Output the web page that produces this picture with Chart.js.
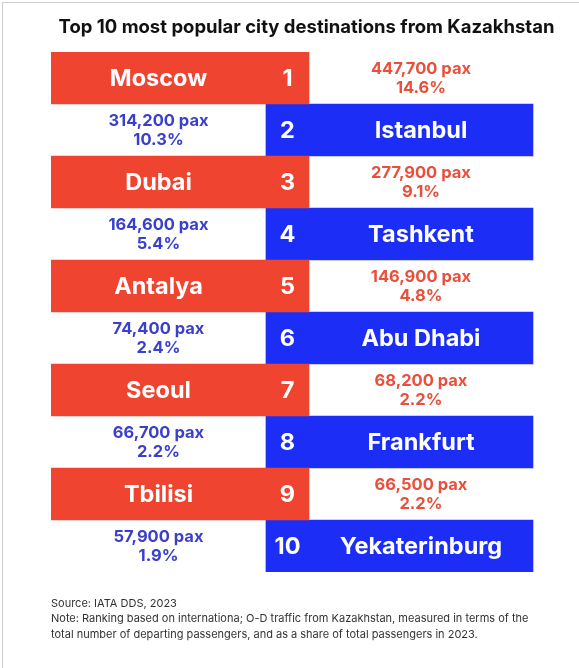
<!DOCTYPE html>
<html>
<head>
<meta charset="utf-8">
<script src="https://cdn.jsdelivr.net/npm/chart.js@4.4.1/dist/chart.umd.min.js"></script>
<style>
  html, body { margin: 0; padding: 0; background: #fff; }
  #wrap { position: relative; width: 579px; height: 668px; }
  #frame { position: absolute; left: 2px; top: 2px; right: 0; bottom: 0;
           border-left: 1px solid #cfcfcf; border-top: 1px solid #cfcfcf; pointer-events: none; }
</style>
</head>
<body>
<div id="wrap">
  <canvas id="c"></canvas>
  <div id="frame"></div>
</div>
<script>
// ---- data ----
const cities = ['Moscow', 'Istanbul', 'Dubai', 'Tashkent', 'Antalya', 'Abu Dhabi', 'Seoul', 'Frankfurt', 'Tbilisi', 'Yekaterinburg'];
const ranks = [1, 2, 3, 4, 5, 6, 7, 8, 9, 10];
const passengers = [447700, 314200, 277900, 164600, 146900, 74400, 68200, 66700, 66500, 57900];
const shares = [14.6, 10.3, 9.1, 5.4, 4.8, 2.4, 2.2, 2.2, 2.2, 1.9];
const titleText = 'Top 10 most popular city destinations from Kazakhstan';
const noteLines = [
  'Source: IATA DDS, 2023',
  'Note: Ranking based on internationa; O-D traffic from Kazakhstan, measured in terms of the',
  'total number of departing passengers, and as a share of total passengers in 2023.'
];

// ---- layout constants (fractions of the hidden x scale) ----
const RED_END = 0.5049;
const BLUE_START = 0.4207;
const BLUE_END = 0.9432;

const RED = '#EF4430';
const BLUE = '#1C2EF5';
const RED_TXT = '#E8503C';
const BLUE_TXT = '#3B40CC';
const FONT = 'Inter, "Noto Sans", "DejaVu Sans", sans-serif';

const redData = ranks.map(r => r % 2 === 1 ? [0, RED_END] : null);
const blueData = ranks.map(r => r % 2 === 0 ? [BLUE_START, BLUE_END] : null);

const labelPlugin = {
  id: 'rowLabels',
  afterDatasetsDraw(chart) {
    const ctx = chart.ctx;
    const xs = chart.scales.x, ys = chart.scales.y;
    const leftMid = xs.getPixelForValue(BLUE_START / 2);
    const numMid = xs.getPixelForValue((BLUE_START + RED_END) / 2);
    const rightMid = xs.getPixelForValue((RED_END + BLUE_END) / 2);
    ctx.save();
    ctx.textAlign = 'center';
    ctx.textBaseline = 'middle';
    cities.forEach((city, i) => {
      const yc = ys.getPixelForValue(i);
      const odd = ranks[i] % 2 === 1;
      const cityX = odd ? leftMid : rightMid;
      const paxX = odd ? rightMid : leftMid;
      ctx.fillStyle = '#ffffff';
      ctx.font = 'bold 23.5px ' + FONT;
      ctx.fillText(city, cityX, yc + 1);
      ctx.fillText(String(ranks[i]), numMid, yc + 1);
      ctx.fillStyle = odd ? RED_TXT : BLUE_TXT;
      ctx.font = 'bold 16.5px ' + FONT;
      ctx.fillText(passengers[i].toLocaleString('en-US') + ' pax', paxX, yc - 9);
      ctx.fillText(shares[i].toFixed(1) + '%', paxX, yc + 10.5);
    });
    ctx.restore();
  }
};

new Chart(document.getElementById('c'), {
  type: 'bar',
  data: {
    labels: cities,
    datasets: [
      { label: 'Odd ranks', data: redData, backgroundColor: RED, grouped: false,
        barPercentage: 1, categoryPercentage: 1, borderWidth: 0 },
      { label: 'Even ranks', data: blueData, backgroundColor: BLUE, grouped: false,
        barPercentage: 1, categoryPercentage: 1, borderWidth: 0 }
    ]
  },
  options: {
    indexAxis: 'y',
    responsive: true,
    maintainAspectRatio: false,
    animation: false,
    layout: { padding: { left: 51, right: 17, top: 16.5, bottom: 25.75 } },
    scales: {
      x: { type: 'linear', min: 0, max: 1, display: false },
      y: { type: 'category', display: false }
    },
    plugins: {
      legend: { display: false },
      tooltip: { enabled: false },
      title: {
        display: true, text: titleText, color: '#111111',
        font: { family: FONT, size: 18.5, weight: 'bold', lineHeight: 1.2 },
        padding: { top: 0, bottom: 13.3 }
      },
      subtitle: {
        display: true, position: 'bottom', align: 'start', text: noteLines,
        color: '#333333',
        font: { family: FONT, size: 11, weight: 'normal', lineHeight: 1.41 },
        padding: { top: 23.75, bottom: 0 }
      }
    }
  },
  plugins: [labelPlugin]
});
</script>
</body>
</html>
